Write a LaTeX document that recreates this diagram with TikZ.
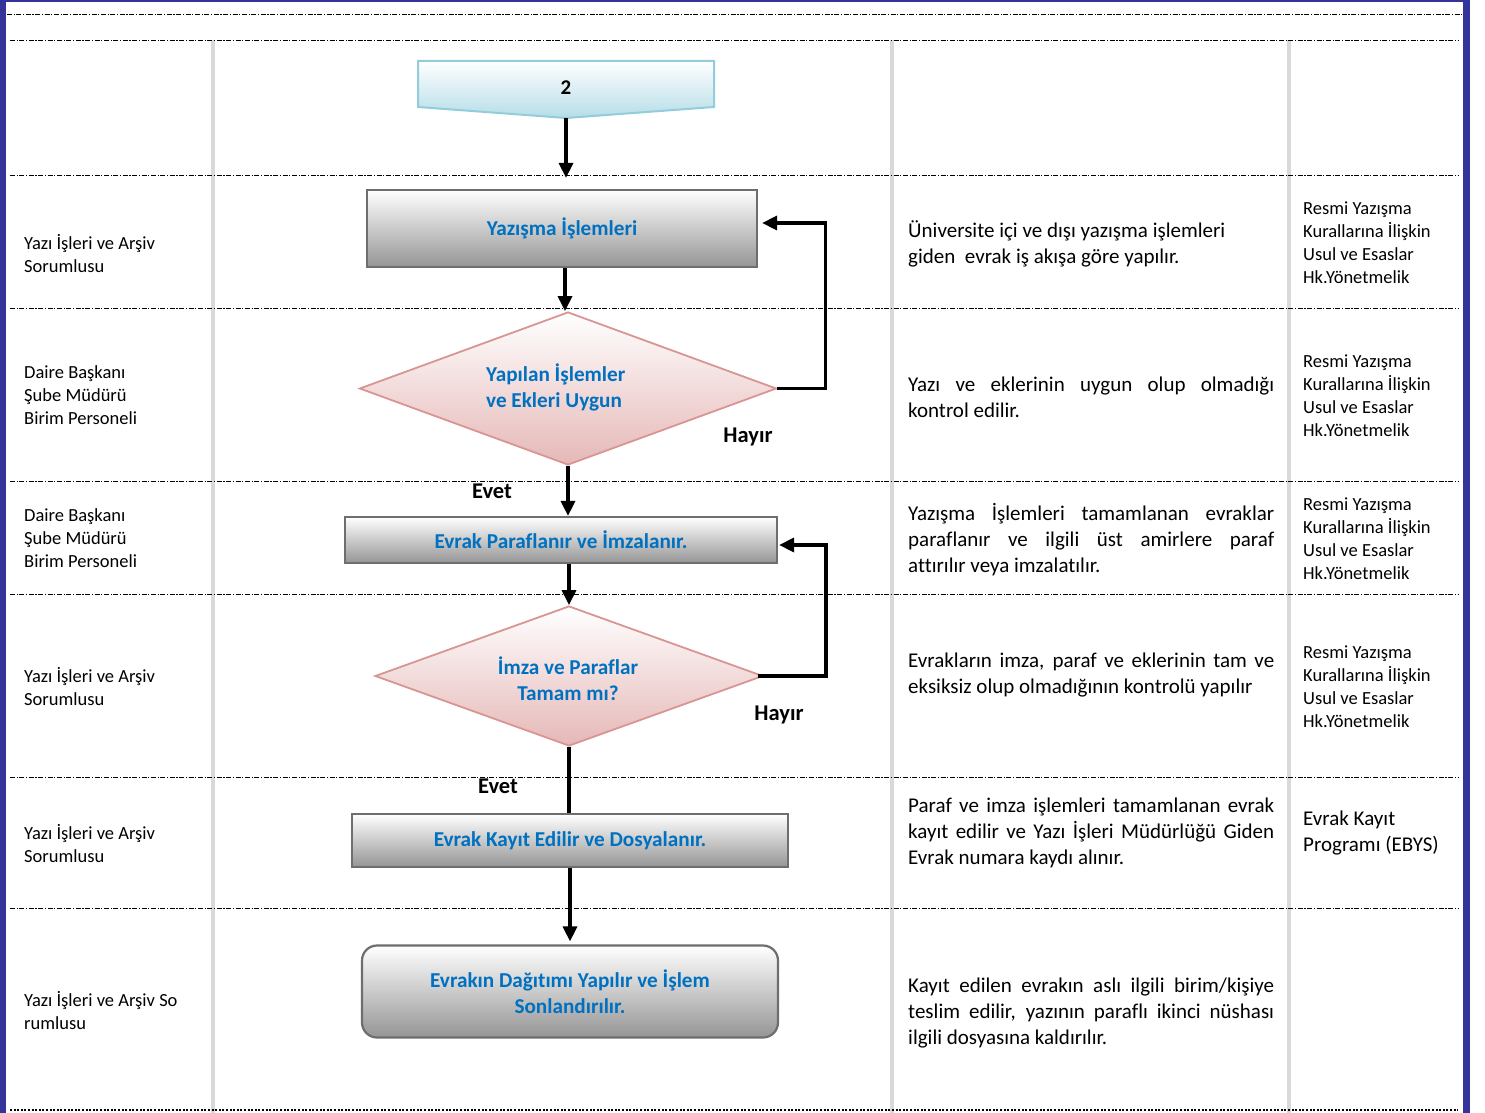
\documentclass[tikz,border=0pt]{standalone}
\usepackage{fontspec}
\setmainfont{Carlito}[Ligatures=NoCommon]
\usetikzlibrary{arrows.meta,shapes.geometric}
\definecolor{frameblue}{HTML}{333399}
\definecolor{sepgrey}{HTML}{D9D9D9}
\definecolor{labblue}{HTML}{0070C0}
\definecolor{boxedge}{HTML}{6E6E6E}
\definecolor{boxbot}{HTML}{959595}
\definecolor{dmedge}{HTML}{D99594}
\definecolor{dmbot}{HTML}{E5B8B7}
\definecolor{cnedge}{HTML}{92CDDC}
\definecolor{cnbot}{HTML}{B6DDE8}
\newcommand{\jline}[1]{\makebox[366pt][s]{#1}}
\begin{document}
\begin{tikzpicture}[x=1pt,y=-1pt,
  rowline/.style={line width=0.9pt, dash pattern=on 5pt off 1.6pt on 1.2pt off 1.6pt},
  botline/.style={line width=1.6pt, dash pattern=on 2pt off 1.6pt},
  sepline/.style={draw=sepgrey, line width=4pt},
  procbox/.style={rectangle, draw=boxedge, line width=2.2pt, top color=white, bottom color=boxbot,
    inner sep=0pt, font=\fontsize{21.2}{26}\selectfont\bfseries, text=labblue, align=center},
  dmd/.style={diamond, draw=dmedge, line width=1.8pt, top color=white, bottom color=dmbot, inner sep=0pt},
  dmdtext/.style={font=\fontsize{21.2}{26}\selectfont\bfseries, text=labblue, inner sep=0pt},
  arr/.style={line width=3.3pt, -{Triangle[length=15pt,width=14pt]}},
  plain/.style={line width=3.3pt},
  yesno/.style={font=\fontsize{22.5}{27}\selectfont\bfseries, inner sep=0pt},
  whocol/.style={font=\fontsize{18.5}{23}\selectfont, align=left, anchor=west, inner sep=0pt},
  desccol/.style={font=\fontsize{21}{26}\selectfont, align=left, anchor=west, inner sep=0pt},
  refcol/.style={font=\fontsize{18.5}{23}\selectfont, align=left, anchor=west, inner sep=0pt},
  refbig/.style={font=\fontsize{21}{26}\selectfont, align=left, anchor=west, inner sep=0pt}
]
\useasboundingbox (0,0) rectangle (1485,1113);
\fill[white] (0,0) rectangle (1485,1113);

% column separators
\foreach \xx in {213,892,1289} \draw[sepline] (\xx,40) -- (\xx,1113);
% row lines
\draw[rowline] (7,14) -- (1463,14);
\foreach \yy in {40,175,308,481,594,777,908} \draw[rowline] (10,\yy) -- (1458,\yy);
\draw[botline] (10,1110) -- (1458,1110);

% frame
\fill[frameblue] (0,0) rectangle (6,1113);
\fill[frameblue] (0,0) rectangle (1470,2.5);
\fill[frameblue] (1463,0) rectangle (1470,1113);

% off-page connector
\path[draw=cnedge, line width=2pt, top color=white, bottom color=cnbot]
  (418,61) -- (714,61) -- (714,107) -- (566,118) -- (418,107) -- cycle;
\node[font=\fontsize{21}{26}\selectfont\bfseries, inner sep=0pt] (c2) at (566,88) {2};
\coordinate (c2tip) at (566,118);

% flow nodes
\node[procbox, minimum width=390pt, minimum height=77pt] (b1) at (562,228.5) {\raisebox{-1pt}{Yazışma İşlemleri}};
\node[dmd, minimum width=417pt, minimum height=153pt] (d1) at (568,388.5) {};
\node[dmdtext, align=left, anchor=west] (d1t) at (486,387.5) {Yapılan İşlemler\\ve Ekleri Uygun};
\node[procbox, minimum width=432pt, minimum height=46pt] (b2) at (561,540) {Evrak Paraflanır ve İmzalanır.};
\node[dmd, minimum width=388pt, minimum height=140pt] (d2) at (569,676) {};
\node[dmdtext, align=center] (d2t) at (568,679) {İmza ve Paraflar\\Tamam mı?};
\node[procbox, minimum width=436pt, minimum height=53pt] (b3) at (570,840.5) {\raisebox{-2pt}{Evrak Kayıt Edilir ve Dosyalanır.}};
\node[procbox, rounded corners=15pt, minimum width=416pt, minimum height=92pt] (b4) at (570,991.5)
  {Evrakın Dağıtımı Yapılır ve İşlem\\Sonlandırılır.};

% connectors
\draw[arr, shorten >=11pt] (c2tip) -- (c2tip |- b1.north);
\draw[arr] (b1.south -| 565,0) -- (d1.north -| 565,0);
\draw[arr] (d1.east) -- ++(48,0) |- ([xshift=4pt,yshift=5.5pt]b1.east);
\draw[arr] (d1.south) -- (d1.south |- b2.north);
\draw[arr] (b2.south -| d2.north) -- (d2.north);
\draw[arr] ([xshift=-6pt]d2.east) -- (826,676) |- ([xshift=1pt,yshift=-5pt]b2.east);
\draw[plain] (d2.south) -- (d2.south |- b3.north);
\draw[arr, shorten >=3pt] (b3.south) -- (b4.north);

\node[yesno] (h1) at (748,437) {Hayır};
\node[yesno] (e1) at (492,491) {Evet};
\node[yesno] (h2) at (779,715) {Hayır};
\node[yesno] (e2) at (498,786) {Evet};

% left column
\node[whocol] (w1) at (24,253.5) {Yazı İşleri ve Arşiv\\Sorumlusu};
\node[whocol] (w2) at (24,395.5) {Daire Başkanı\\Şube Müdürü\\Birim Personeli};
\node[whocol] (w3) at (24,538) {Daire Başkanı\\Şube Müdürü\\Birim Personeli};
\node[whocol] (w4) at (24,686.5) {Yazı İşleri ve Arşiv\\Sorumlusu};
\node[whocol] (w5) at (24,843.5) {Yazı İşleri ve Arşiv\\Sorumlusu};
\node[whocol] (w6) at (24,1010.5) {Yazı İşleri ve Arşiv So\\rumlusu};

% description column
\node[desccol] (t1) at (908,244) {Üniversite içi ve dışı yazışma işlemleri\\giden\ \ evrak iş akışa göre yapılır.};
\node[desccol] (t2) at (908,397) {\jline{Yazı ve eklerinin uygun olup olmadığı}\\kontrol edilir.};
\node[desccol] (t3) at (908,540) {\jline{Yazışma İşlemleri tamamlanan evraklar}\\\jline{paraflanır ve ilgili üst amirlere paraf}\\attırılır veya imzalatılır.};
\node[desccol] (t4) at (908,675) {\jline{Evrakların imza, paraf ve eklerinin tam ve}\\eksiksiz olup olmadığının kontrolü yapılır};
\node[desccol] (t5) at (908,832.5) {\jline{Paraf ve imza işlemleri tamamlanan evrak}\\\jline{kayıt edilir ve Yazı İşleri Müdürlüğü Giden}\\Evrak numara kaydı alınır.};
\node[desccol] (t6) at (908,1013) {\jline{Kayıt edilen evrakın aslı ilgili birim/kişiye}\\\jline{teslim edilir, yazının paraflı ikinci nüshası}\\ilgili dosyasına kaldırılır.};

% reference column
\node[refcol] (r1) at (1303,242.5) {Resmi Yazışma\\Kurallarına İlişkin\\Usul ve Esaslar\\Hk.Yönetmelik};
\node[refcol] (r2) at (1303,395.5) {Resmi Yazışma\\Kurallarına İlişkin\\Usul ve Esaslar\\Hk.Yönetmelik};
\node[refcol] (r3) at (1303,538.5) {Resmi Yazışma\\Kurallarına İlişkin\\Usul ve Esaslar\\Hk.Yönetmelik};
\node[refcol] (r4) at (1303,686.5) {Resmi Yazışma\\Kurallarına İlişkin\\Usul ve Esaslar\\Hk.Yönetmelik};
\node[refbig] (r5) at (1303,833) {Evrak Kayıt\\Programı (EBYS)};
\end{tikzpicture}
\end{document}
